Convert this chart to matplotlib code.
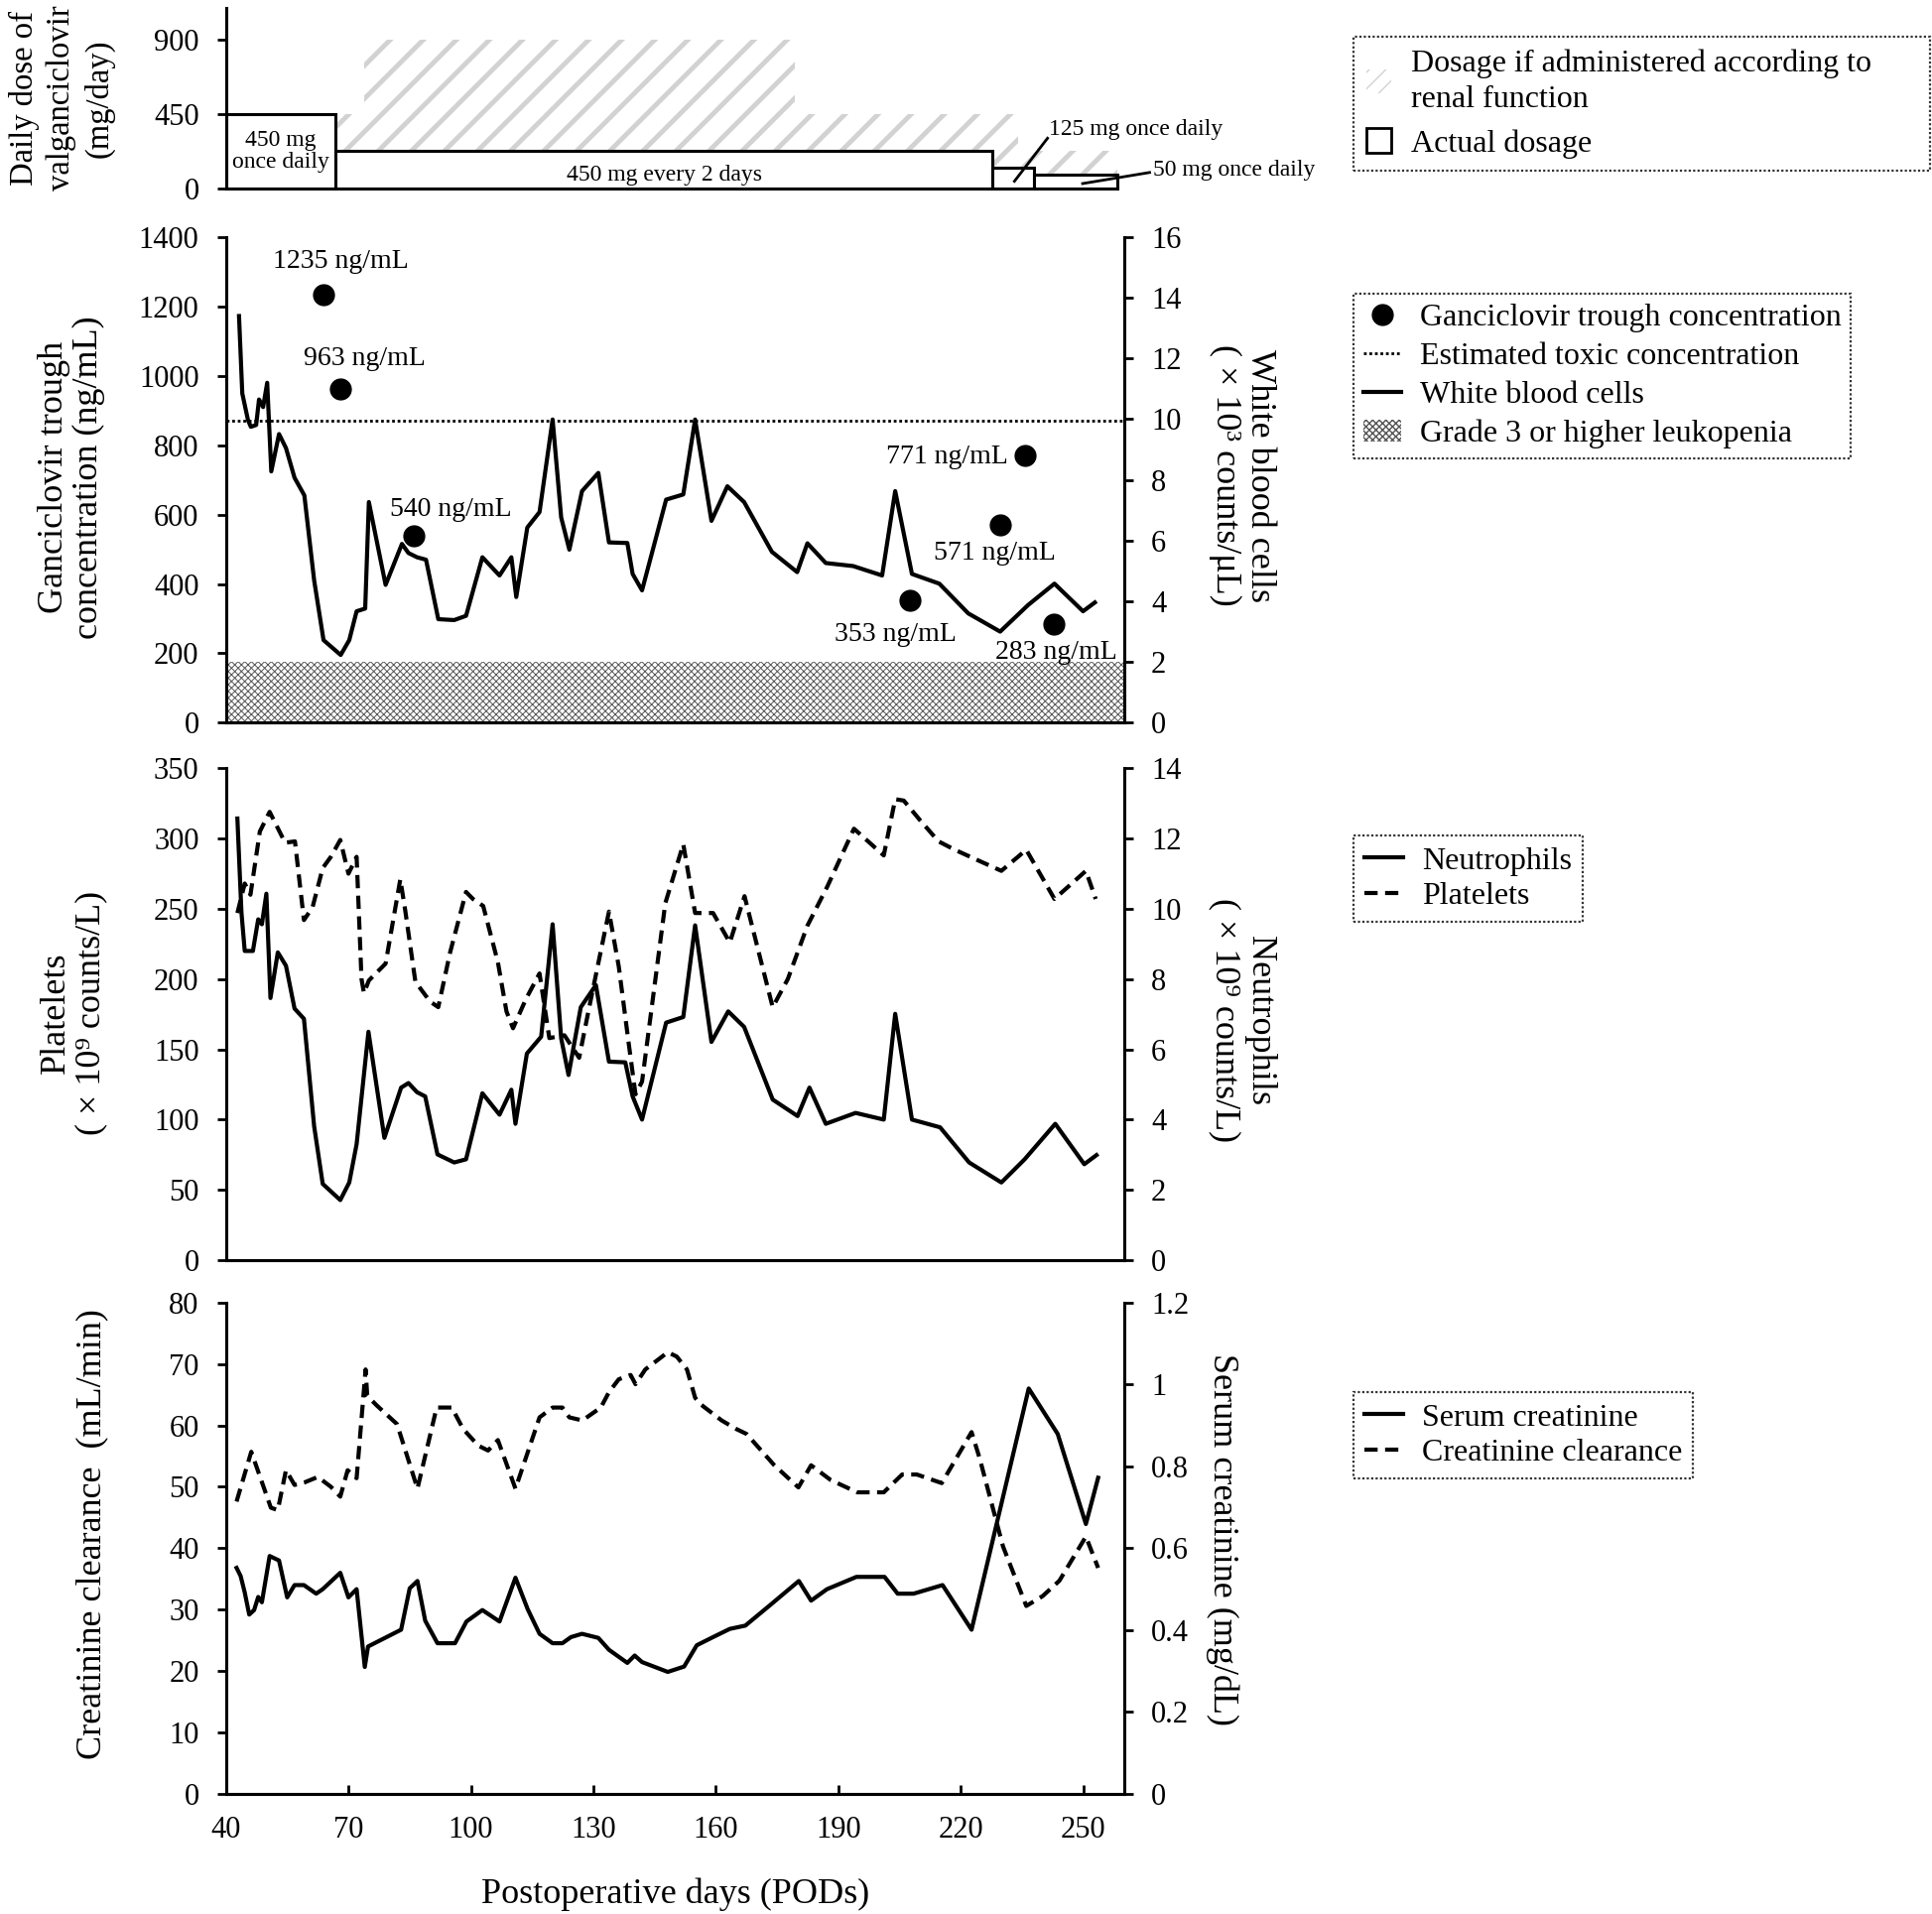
import matplotlib.pyplot as plt
from matplotlib.patches import Patch
from matplotlib.lines import Line2D
from matplotlib.ticker import FuncFormatter

plt.rcParams['font.family'] = ['Liberation Serif', 'DejaVu Serif']

# 일일 투여량 (valganciclovir, mg/day)
actual_start = [40, 66.8, 227.7, 238.0]
actual_end = [66.8, 227.7, 237.8, 258.3]
actual_dose = [450, 225, 125, 85]
actual_text = ['450 mg\nonce daily', '450 mg every 2 days', '125 mg once daily', '50 mg once daily']

renal_start = [66.8, 73.8, 179.3, 234.0]
renal_end = [73.8, 179.3, 234.0, 258.3]
renal_dose = [450, 900, 450, 225]

# ganciclovir 농도
trough_day = [63.9, 68.1, 86.0, 207.6, 229.6, 235.8, 242.7]
trough_conc = [1235, 963, 540, 353, 571, 771, 283]
toxic_conc = 870
leukopenia_wbc = 2

# 백혈구 (x10^3 /uL)
wbc_day = [43.2, 44.0, 45.4, 46.1, 47.4, 48.1, 49.1, 50.1, 51.1, 53.0, 54.7, 56.8, 59.2,
           61.6, 63.9, 68.1, 70.2, 72.0, 74.1, 75.0, 79.1, 83.1, 84.7, 86.8, 89.0, 92.0,
           95.9, 98.8, 102.8, 107.0, 109.9, 111.1, 113.8, 116.8, 120.0, 122.1, 124.1,
           127.2, 131.2, 133.8, 138.3, 139.6, 141.9, 147.8, 152.0, 154.9, 158.9, 162.8,
           166.9, 173.7, 179.9, 182.4, 186.9, 193.6, 200.7, 203.9, 208.0, 214.7, 221.8,
           229.6, 236.4, 242.9, 249.9, 252.8]
wbc = [13.4, 10.85, 9.97, 9.75, 9.81, 10.65, 10.4, 11.2, 8.28, 9.51, 9.05, 8.07, 7.49,
       4.69, 2.72, 2.23, 2.72, 3.67, 3.76, 7.27, 4.54, 5.89, 5.59, 5.45, 5.37, 3.41,
       3.38, 3.52, 5.45, 4.85, 5.45, 4.14, 6.43, 6.94, 9.99, 6.76, 5.70,
       7.63, 8.23, 5.94, 5.92, 4.90, 4.36, 7.35, 7.52, 9.99, 6.65, 7.79,
       7.27, 5.63, 4.96, 5.91, 5.26, 5.16, 4.85, 7.63, 4.90, 4.58, 3.60,
       3.00, 3.87, 4.58, 3.67, 3.96]

# 호중구 (x10^9 /L)
neu_day = [42.8, 43.8, 44.6, 46.6, 47.9, 48.8, 49.9, 50.9, 52.7, 54.7, 56.8, 59.1, 61.6,
           63.7, 68.0, 70.2, 72.0, 74.9, 78.8, 82.9, 84.7, 86.8, 88.8, 91.8, 95.9, 98.8,
           102.8, 107.0, 109.9, 110.9, 113.7, 117.2, 120.0, 122.1, 123.9, 126.9, 130.6,
           133.8, 137.8, 139.6, 141.9, 147.8, 152.0, 154.9, 158.9, 163.0, 166.9, 173.9,
           180.0, 182.9, 186.9, 194.2, 201.1, 203.9, 208.0, 214.9, 222.0, 229.9, 235.6,
           243.1, 250.2, 253.2]
neu = [12.57, 9.89, 8.80, 8.80, 9.70, 9.56, 10.43, 7.46, 8.76, 8.38, 7.16, 6.87, 3.81,
       2.17, 1.71, 2.21, 3.30, 6.50, 3.48, 4.91, 5.04, 4.78, 4.66, 3.01, 2.78, 2.87,
       4.75, 4.14, 4.85, 3.88, 5.88, 6.36, 9.56, 6.31, 5.27, 7.20, 7.83,
       5.65, 5.63, 4.66, 4.00, 6.76, 6.92, 9.53, 6.21, 7.08, 6.64, 4.57,
       4.10, 4.91, 3.88, 4.19, 4.00, 7.01, 4.00, 3.78, 2.78, 2.21, 2.87,
       3.88, 2.73, 2.99]

# 혈소판 (x10^9 /L)
plt_day = [42.8, 44.6, 46.0, 48.3, 50.7, 54.5, 56.9, 59.1, 61.2, 63.7, 65.7, 68.0, 70.0,
           72.0, 73.2, 73.8, 75.0, 79.1, 82.7, 83.9, 86.4, 90.0, 92.0, 94.9, 98.8, 100.5,
           103.0, 106.6, 108.7, 110.3, 113.5, 116.8, 119.2, 122.9, 126.5, 128.9, 133.8,
           136.2, 138.6, 140.3, 141.9, 147.6, 152.0, 154.9, 159.3, 163.4, 167.0, 171.1,
           173.9, 177.6, 182.4, 187.3, 193.8, 201.1, 203.9, 206.0, 210.0, 214.5, 218.5,
           223.8, 229.9, 236.0, 242.9, 250.6, 253.0]
platelets = [247, 268, 260, 305, 319, 297, 298, 242, 251, 279, 287, 299, 275,
             287, 200, 190, 199, 211, 271, 249, 198, 184, 180, 219, 262, 257,
             252, 212, 177, 165, 186, 204, 158, 160, 144, 179, 248,
             209, 155, 118, 127, 254, 296, 247, 247, 226, 259, 212,
             180, 200, 238, 266, 307, 288, 328, 327, 313, 298, 292,
             285, 277, 292, 257, 277, 257]

# 혈청 크레아티닌 (mg/dL)
scr_day = [42.6, 43.6, 44.6, 45.7, 46.9, 47.9, 48.8, 50.7, 53.0, 55.0, 56.8, 59.1, 62.1,
           63.7, 68.0, 70.0, 72.0, 74.0, 74.8, 82.9, 85.0, 86.9, 88.8, 91.8, 96.1, 98.9,
           102.8, 107.0, 110.9, 113.9, 116.8, 120.0, 122.4, 124.5, 127.2, 131.2, 133.8,
           138.3, 140.1, 141.9, 148.2, 152.2, 155.3, 159.3, 163.4, 167.2, 173.5, 180.3,
           183.3, 187.2, 194.4, 201.3, 204.5, 208.4, 215.5, 222.6, 236.6, 243.7, 250.6,
           253.6]
scr = [0.552, 0.532, 0.492, 0.438, 0.449, 0.481, 0.468, 0.581, 0.570, 0.480, 0.510, 0.510, 0.489,
       0.500, 0.540, 0.480, 0.500, 0.310, 0.360, 0.401, 0.502, 0.520, 0.423, 0.368, 0.368, 0.421,
       0.449, 0.421, 0.528, 0.451, 0.391, 0.368, 0.368, 0.383, 0.391, 0.381, 0.352,
       0.320, 0.338, 0.322, 0.298, 0.311, 0.363, 0.383, 0.403, 0.411, 0.463, 0.520,
       0.472, 0.500, 0.530, 0.530, 0.489, 0.489, 0.510, 0.401, 0.990, 0.879, 0.659,
       0.772]

# 크레아티닌 청소율 (mL/min)
ccr_day = [42.6, 46.2, 51.0, 52.7, 54.7, 56.8, 59.2, 62.5, 65.7, 68.0, 69.8, 72.0, 74.2,
           74.6, 77.0, 81.9, 86.9, 91.6, 95.3, 98.1, 101.8, 104.2, 106.6, 110.9, 116.8,
           120.0, 122.4, 124.1, 127.3, 131.8, 133.8, 136.2, 139.1, 140.3, 142.7, 148.2,
           150.4, 152.9, 154.9, 156.1, 161.4, 165.0, 167.5, 174.3, 180.2, 183.3, 188.1,
           194.6, 201.1, 205.6, 209.2, 215.3, 222.6, 224.6, 230.3, 236.0, 240.0, 244.1,
           250.6, 253.6]
ccr = [47.6, 55.7, 46.6, 46.2, 52.7, 50.3, 50.7, 51.6, 50.0, 48.4, 52.7, 51.4, 69.1,
       64.8, 63.2, 60.2, 49.7, 62.9, 62.9, 59.4, 56.7, 55.9, 57.6, 49.7, 61.3,
       62.9, 62.9, 61.3, 60.8, 62.9, 65.4, 67.5, 68.2, 66.7, 69.1, 71.9,
       71.2, 69.1, 64.5, 63.5, 60.8, 59.4, 58.6, 53.5, 49.9, 53.5, 51.1,
       49.1, 49.1, 52.0, 52.0, 50.6, 58.9, 54.6, 40.3, 30.6, 32.2, 34.7,
       41.9, 36.8]

W, H = 1947, 1929
fig = plt.figure(figsize=(W / 100, H / 100), dpi=100)


def box(x0, y0, x1, y1):
    # 픽셀 좌표 -> figure 좌표
    return [x0 / W, 1 - y1 / H, (x1 - x0) / W, (y1 - y0) / H]


LW = 3
TICK = dict(labelsize=22, width=2, length=6.5)
LEUK_COLOR = '#555555'


def style_left(ax):
    for s in ['top', 'right']:
        ax.spines[s].set_visible(False)
    for s in ['left', 'bottom']:
        ax.spines[s].set_linewidth(2.2)
    ax.tick_params(axis='y', direction='out', pad=13, **TICK)
    ax.set_xlim(40, 260)


def style_right(ax):
    for s in ['top', 'left']:
        ax.spines[s].set_visible(False)
    for s in ['right', 'bottom']:
        ax.spines[s].set_linewidth(2.2)
    ax.tick_params(axis='y', direction='out', pad=13, **TICK)
    ax.yaxis.set_major_formatter(FuncFormatter(lambda v, p: '%g' % v))


# ---- 1. 투여량
ax1 = fig.add_axes(box(227.7, 8.3, 1133, 190))
style_left(ax1)
ax1.spines['bottom'].set_bounds(40, 258.3)
ax1.set_ylim(0, 1090)
ax1.set_yticks([0, 450, 900])
ax1.set_xticks([])

renal = ax1.bar(renal_start, renal_dose,
                width=[e - s for s, e in zip(renal_start, renal_end)],
                align='edge', facecolor='white', edgecolor='#d2d2d2',
                hatch='/', linewidth=0, zorder=1)
for p in renal:
    if hasattr(p, 'set_hatch_linewidth'):
        p.set_hatch_linewidth(3.5)
ax1.bar(actual_start, actual_dose,
        width=[e - s for s, e in zip(actual_start, actual_end)],
        align='edge', facecolor='white', edgecolor='black', linewidth=2.2, zorder=2)

ax1.text((actual_start[0] + actual_end[0]) / 2, 225, actual_text[0], ha='center',
         va='center', fontsize=17, linespacing=1.1, zorder=3)
ax1.text((actual_start[1] + actual_end[1]) / 2, 80, actual_text[1], ha='center',
         va='center', fontsize=17, zorder=3)
ax1.plot([233.1, 241.2], [44, 304], color='black', lw=2, clip_on=False)
ax1.text(241.6, 356, actual_text[2], ha='left', va='center', fontsize=17)
ax1.plot([249.8, 266.2], [30, 97], color='black', lw=2, clip_on=False)
ax1.text(267, 112, actual_text[3], ha='left', va='center', fontsize=17)

fig.text(62 / W, 1 - 99 / H, 'Daily dose of\nvalganciclovir\n(mg/day)', rotation=90,
         ha='center', va='center', fontsize=23.5, linespacing=1.3)

# ---- 2. ganciclovir / WBC
ax2 = fig.add_axes(box(227.7, 239, 1133, 728.3))
ax2r = ax2.twinx()
style_left(ax2)
style_right(ax2r)
ax2.set_xticks([])
ax2.set_ylim(0, 1400)
ax2.set_yticks(range(0, 1401, 200))
ax2r.set_ylim(0, 16)
ax2r.set_yticks(range(0, 17, 2))
ax2r.set_xlim(40, 260)

leuk = ax2r.axhspan(0, leukopenia_wbc, facecolor='white', edgecolor=LEUK_COLOR,
                    hatch='xxxxx', linewidth=0, zorder=0.5)
if hasattr(leuk, 'set_hatch_linewidth'):
    leuk.set_hatch_linewidth(0.7)
ax2r.plot(wbc_day, wbc, color='black', lw=LW, zorder=3)
ax2.axhline(toxic_conc, color='black', lw=2, ls=(0, (1, 1)))
ax2.plot(trough_day, trough_conc, 'o', color='black', ms=15, zorder=4)
ax2.set_zorder(ax2r.get_zorder() + 1)
ax2.patch.set_visible(False)

trough_text = [(68.0, 1330), (74.0, 1050), (95.1, 616), (203.9, 254),
               (228.3, 488), (216.6, 765), (243.4, 204)]
for (tx, ty), c in zip(trough_text, trough_conc):
    ax2.text(tx, ty, '%d ng/mL' % c, ha='center', va='center', fontsize=20)

fig.text(72 / W, 1 - 481 / H, 'Ganciclovir trough\nconcentration (ng/mL)', rotation=90,
         ha='center', va='center', fontsize=26, linespacing=1.1)
fig.text(1252 / W, 1 - 479 / H, 'White blood cells\n( × 10³ counts/μL)', rotation=270,
         ha='center', va='center', fontsize=26, linespacing=1.1)

# ---- 3. 호중구 / 혈소판
ax3 = fig.add_axes(box(227.7, 774.3, 1133, 1270))
ax3r = ax3.twinx()
style_left(ax3)
style_right(ax3r)
ax3.set_xticks([])
ax3.set_ylim(0, 350)
ax3.set_yticks(range(0, 351, 50))
ax3r.set_ylim(0, 14)
ax3r.set_yticks(range(0, 15, 2))
ax3r.set_xlim(40, 260)
ax3r.plot(neu_day, neu, color='black', lw=LW)
ax3.plot(plt_day, platelets, color='black', lw=LW, dashes=(3.2, 1.8))

fig.text(74.5 / W, 1 - 1021 / H, 'Platelets\n( × 10⁹ counts/L)', rotation=90,
         ha='center', va='center', fontsize=26, linespacing=1.1)
fig.text(1252 / W, 1 - 1028 / H, 'Neutrophils\n( × 10⁹ counts/L)', rotation=270,
         ha='center', va='center', fontsize=26, linespacing=1.1)

# ---- 4. 신기능
ax4 = fig.add_axes(box(227.7, 1312.7, 1133, 1808))
ax4r = ax4.twinx()
style_left(ax4)
style_right(ax4r)
ax4.set_ylim(0, 80)
ax4.set_yticks(range(0, 81, 10))
ax4r.set_ylim(0, 1.2)
ax4r.set_yticks([0, 0.2, 0.4, 0.6, 0.8, 1.0, 1.2])
ax4r.set_xlim(40, 260)
ax4.set_xticks(range(40, 251, 30))
ax4r.set_xticks(range(40, 251, 30))
ax4.tick_params(axis='x', direction='in', pad=16, **TICK)
ax4r.tick_params(axis='x', direction='in', pad=16, **TICK)
ax4r.plot(scr_day, scr, color='black', lw=LW)
ax4.plot(ccr_day, ccr, color='black', lw=LW, dashes=(3.2, 1.8))

fig.text(93 / W, 1 - 1546 / H, 'Creatinine clearance  (mL/min)', rotation=90,
         ha='center', va='center', fontsize=26)
fig.text(1232 / W, 1 - 1552 / H, 'Serum creatinine (mg/dL)', rotation=270,
         ha='center', va='center', fontsize=26)
fig.text(681 / W, 1 - 1909 / H, 'Postoperative days (PODs)', ha='center', va='center',
         fontsize=26)

# ---- 범례
LEG = dict(loc='upper left', bbox_transform=fig.transFigure, borderaxespad=0,
           fontsize=23, frameon=True, fancybox=False, handletextpad=0.6)


def dotted_frame(leg):
    fr = leg.get_frame()
    fr.set_linestyle((0, (1, 1)))
    fr.set_linewidth(1.6)
    fr.set_edgecolor('black')
    fr.set_boxstyle('square', pad=0)


h_renal = Patch(facecolor='white', edgecolor='#d2d2d2', hatch='//', linewidth=0)
h_actual = Patch(facecolor='white', edgecolor='black', linewidth=2)
leg1 = fig.legend([h_renal, h_actual],
                  ['Dosage if administered according to\nrenal function', 'Actual dosage'],
                  bbox_to_anchor=(1364 / W, 1 - 37 / H, 581 / W, 0), mode='expand',
                  handlelength=0.8, handleheight=0.8, labelspacing=0.45, borderpad=0.4,
                  **LEG)
for t in leg1.get_texts():
    t.set_linespacing(1.3)
dotted_frame(leg1)

h_dot = Line2D([], [], marker='o', color='black', ls='none', ms=15)
h_toxic = Line2D([], [], color='black', lw=2, ls=(0, (1, 1)))
h_wbc = Line2D([], [], color='black', lw=LW)
h_leuk = Patch(facecolor='white', edgecolor=LEUK_COLOR, hatch='xxxxx', linewidth=0)
leg2 = fig.legend([h_dot, h_toxic, h_wbc, h_leuk],
                  ['Ganciclovir trough concentration', 'Estimated toxic concentration',
                   'White blood cells', 'Grade 3 or higher leukopenia'],
                  bbox_to_anchor=(1364 / W, 1 - 296 / H), handlelength=1.2,
                  labelspacing=0.3, borderpad=0.3, **LEG)
dotted_frame(leg2)

leg3 = fig.legend([Line2D([], [], color='black', lw=LW),
                   Line2D([], [], color='black', lw=LW, dashes=(3.2, 1.8))],
                  ['Neutrophils', 'Platelets'],
                  bbox_to_anchor=(1364 / W, 1 - 842 / H), handlelength=1.2,
                  labelspacing=0.2, borderpad=0.35, **LEG)
dotted_frame(leg3)

leg4 = fig.legend([Line2D([], [], color='black', lw=LW),
                   Line2D([], [], color='black', lw=LW, dashes=(3.2, 1.8))],
                  ['Serum creatinine', 'Creatinine clearance'],
                  bbox_to_anchor=(1364 / W, 1 - 1403 / H), handlelength=1.2,
                  labelspacing=0.2, borderpad=0.35, **LEG)
dotted_frame(leg4)

fig.savefig('out.png', dpi=100)
